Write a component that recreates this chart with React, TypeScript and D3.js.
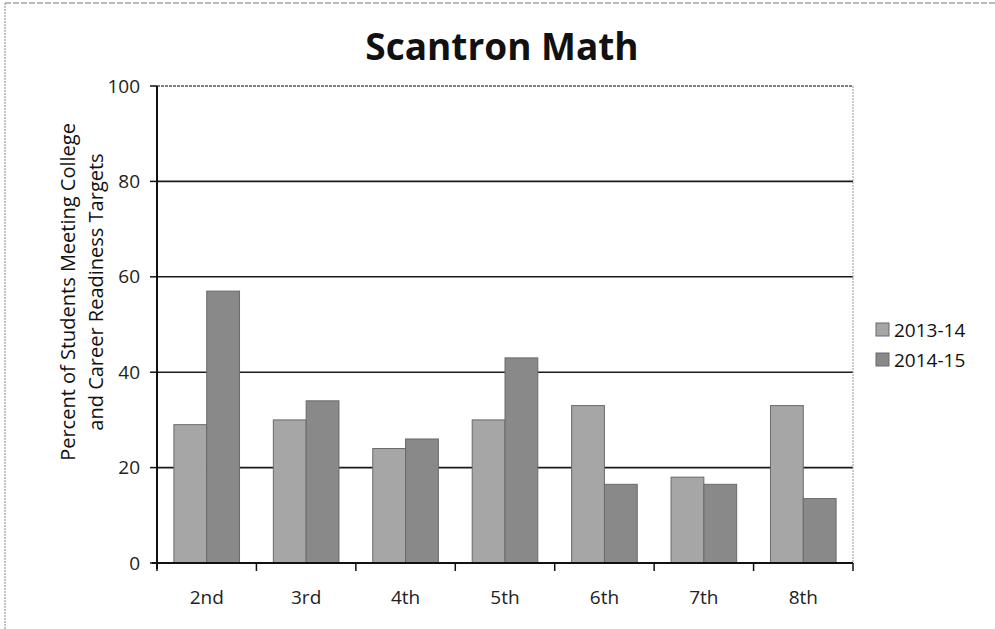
import React from "react";
import * as d3 from "d3";

const grades = ["2nd", "3rd", "4th", "5th", "6th", "7th", "8th"];
const seriesNames = ["2013-14", "2014-15"];
const values2013 = [29, 30, 24, 30, 33, 18, 33];
const values2014 = [57, 34, 26, 43, 16.5, 16.5, 13.5];
const yTicks = [0, 20, 40, 60, 80, 100];
const colors = ["#a6a6a6", "#898989"];

const W = 995;
const H = 629;
const margin = { top: 86, right: 142, bottom: 66, left: 157 };
const font = "'Open Sans', 'DejaVu Sans', sans-serif";

export default function App() {
  const plotW = W - margin.left - margin.right;
  const plotH = H - margin.top - margin.bottom;

  const x0 = d3
    .scaleBand<string>()
    .domain(grades)
    .range([0, plotW])
    .paddingInner(0.34)
    .paddingOuter(0.17);

  const x1 = d3
    .scaleBand<string>()
    .domain(seriesNames)
    .range([0, x0.bandwidth()]);

  const y = d3.scaleLinear().domain([0, 100]).range([plotH, 0]);

  const rows = grades.map((g, i) => ({
    grade: g,
    vals: [values2013[i], values2014[i]],
  }));

  const step = plotW / grades.length;

  return (
    <div style={{ position: "absolute", left: 0, top: 0 }}>
      <svg width={W} height={H} style={{ display: "block", background: "#fff" }}>
        {/* outer frame (top and left only, scanned look) */}
        <line x1={5} x2={W} y1={3} y2={3} stroke="#777" strokeWidth={1.2} strokeDasharray="6,2" />
        <line x1={5} x2={5} y1={3} y2={H} stroke="#888" strokeWidth={1} strokeDasharray="2,1" />

        <text
          x={502}
          y={60}
          textAnchor="middle"
          fontFamily={font}
          fontWeight={700}
          fontSize={37}
          fill="#111"
        >
          Scantron Math
        </text>

        <g transform={`translate(${margin.left},${margin.top})`}>
          {/* gridlines */}
          {yTicks
            .filter((t) => t > 0)
            .map((t) => (
              <line
                key={t}
                x1={0}
                x2={plotW}
                y1={y(t)}
                y2={y(t)}
                stroke={t === 100 ? "#555" : "#1a1a1a"}
                strokeWidth={t === 100 ? 1.5 : 1.6}
                strokeDasharray={t === 100 ? "3,1" : undefined}
              />
            ))}
          {/* right border of plot area */}
          <line x1={plotW} x2={plotW} y1={0} y2={plotH} stroke="#999" strokeWidth={1} strokeDasharray="2,1" />

          {/* bars */}
          {rows.map((r) => (
            <g key={r.grade} transform={`translate(${x0(r.grade)},0)`}>
              {r.vals.map((v, j) => (
                <rect
                  key={j}
                  x={x1(seriesNames[j])}
                  y={y(v)}
                  width={x1.bandwidth()}
                  height={plotH - y(v)}
                  fill={colors[j]}
                  stroke="#6a6a6a"
                  strokeWidth={1}
                />
              ))}
            </g>
          ))}

          {/* y axis */}
          <line x1={0} x2={0} y1={0} y2={plotH + 6} stroke="#111" strokeWidth={2} />
          {yTicks.map((t) => (
            <g key={t} transform={`translate(0,${y(t)})`}>
              <line x1={-7} x2={0} stroke="#111" strokeWidth={1.5} />
              <text
                x={-17}
                dy="0.35em"
                textAnchor="end"
                fontFamily={font}
                fontSize={19}
                fill="#222"
              >
                {t}
              </text>
            </g>
          ))}

          {/* x axis */}
          <line x1={-5} x2={plotW} y1={plotH} y2={plotH} stroke="#111" strokeWidth={2} />
          {d3.range(grades.length + 1).map((i) => (
            <line
              key={i}
              x1={i * step}
              x2={i * step}
              y1={plotH}
              y2={plotH + 8}
              stroke="#111"
              strokeWidth={1.5}
            />
          ))}
          {grades.map((g) => (
            <text
              key={g}
              x={(x0(g) ?? 0) + x0.bandwidth() / 2}
              y={plotH + 41}
              textAnchor="middle"
              fontFamily={font}
              fontSize={19}
              fill="#222"
            >
              {g}
            </text>
          ))}
        </g>

        {/* y axis title */}
        <g transform={`translate(75,292) rotate(-90)`}>
          <text textAnchor="middle" fontFamily={font} fontSize={20} fill="#111">
            Percent of Students Meeting College
          </text>
          <text y={28} textAnchor="middle" fontFamily={font} fontSize={20} fill="#111">
            and Career Readiness Targets
          </text>
        </g>

        {/* legend */}
        {seriesNames.map((s, i) => (
          <g key={s} transform={`translate(876,${330 + i * 30})`}>
            <rect x={0} y={-7} width={13} height={13} fill={colors[i]} stroke="#6a6a6a" strokeWidth={1} />
            <text x={18} dy="0.35em" fontFamily={font} fontSize={19} fill="#111">
              {s}
            </text>
          </g>
        ))}
      </svg>
    </div>
  );
}
